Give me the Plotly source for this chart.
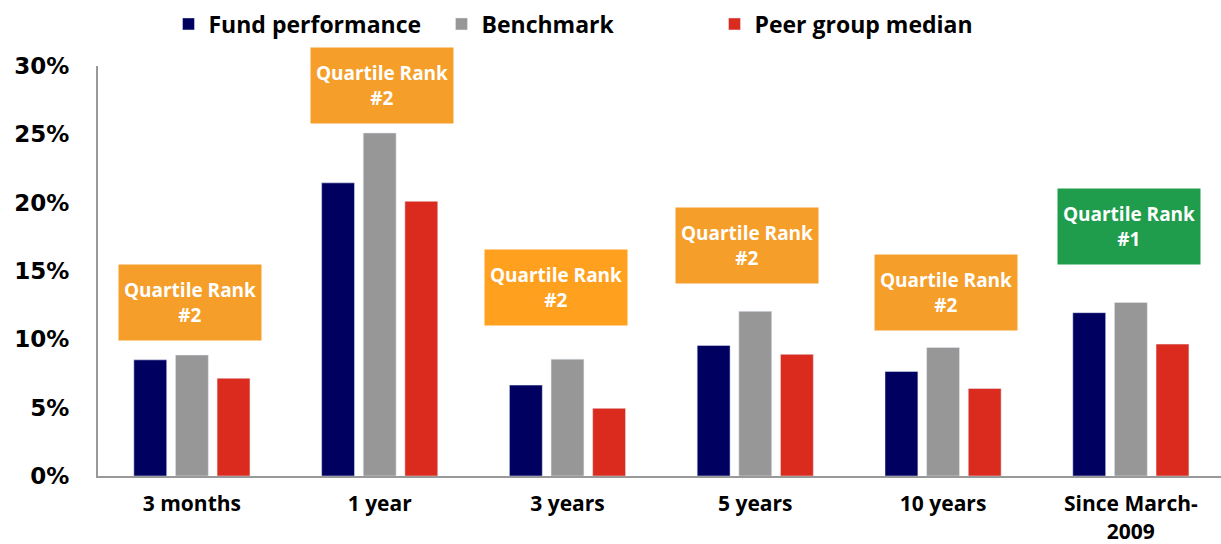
import plotly.graph_objects as go

categories = ["3 months", "1 year", "3 years", "5 years", "10 years", "Since March-<br>2009"]
fund = [8.5, 21.45, 6.65, 9.55, 7.65, 11.95]
benchmark = [8.85, 25.1, 8.55, 12.05, 9.4, 12.7]
peer = [7.15, 20.1, 4.95, 8.9, 6.4, 9.65]

rank_labels = ["Quartile Rank<br>#2"] * 5 + ["Quartile Rank<br>#1"]
rank_colors = ["#F59E2A", "#F59E2A", "#FFA11E", "#F59E2A", "#F59E2A", "#1F9D4C"]
rank_y = [12.7, 28.55, 13.8, 16.85, 13.45, 18.25]
rank_xshift = [-2, 2, -11, -8, 3, -2]

fig = go.Figure()
fig.add_trace(go.Bar(name="Fund performance", x=categories, y=fund, marker_color="#000060"))
fig.add_trace(go.Bar(name="Benchmark", x=categories, y=benchmark, marker_color="#979797"))
fig.add_trace(go.Bar(name="Peer group median", x=categories, y=peer, marker_color="#DB2B1E"))

for c, lab, col, yy, xs in zip(categories, rank_labels, rank_colors, rank_y, rank_xshift):
    fig.add_annotation(x=c, y=yy, xref="x", yref="y", text=lab, showarrow=False,
                       xshift=xs, yanchor="middle", xanchor="center",
                       width=142, height=75, bgcolor=col, borderpad=0,
                       font=dict(family="Open Sans", size=19, color="white", weight="bold"))

fig.update_layout(
    width=1221, height=544,
    margin=dict(l=98, r=0, t=66, b=68, autoexpand=False),
    plot_bgcolor="white", paper_bgcolor="white",
    barmode="group", bargap=0.335, bargroupgap=0.21,
    showlegend=True,
    legend=dict(orientation="h", xref="container", yref="container", x=0.138, y=1 - 24 / 544,
                xanchor="left", yanchor="middle", entrywidth=228, entrywidthmode="pixels",
                font=dict(family="Open Sans", size=23, color="black", weight="bold")),
    xaxis=dict(showline=True, linecolor="#999999", linewidth=2, ticks="", showgrid=False,
               range=[-0.5, 5.48], automargin=False, ticklabelstandoff=8,
               tickfont=dict(family="Open Sans", size=21, color="black", weight="bold")),
    yaxis=dict(showline=True, linecolor="#999999", linewidth=2, ticks="", showgrid=False,
               range=[0, 30], dtick=5, ticksuffix="%", zeroline=False, ticklabelstandoff=22,
               automargin=False,
               tickfont=dict(family="DejaVu Sans", size=23, color="black", weight="bold")),
)

fig.write_html("out.html", config={"displayModeBar": False},
               post_script="document.body.style.margin='0';")
